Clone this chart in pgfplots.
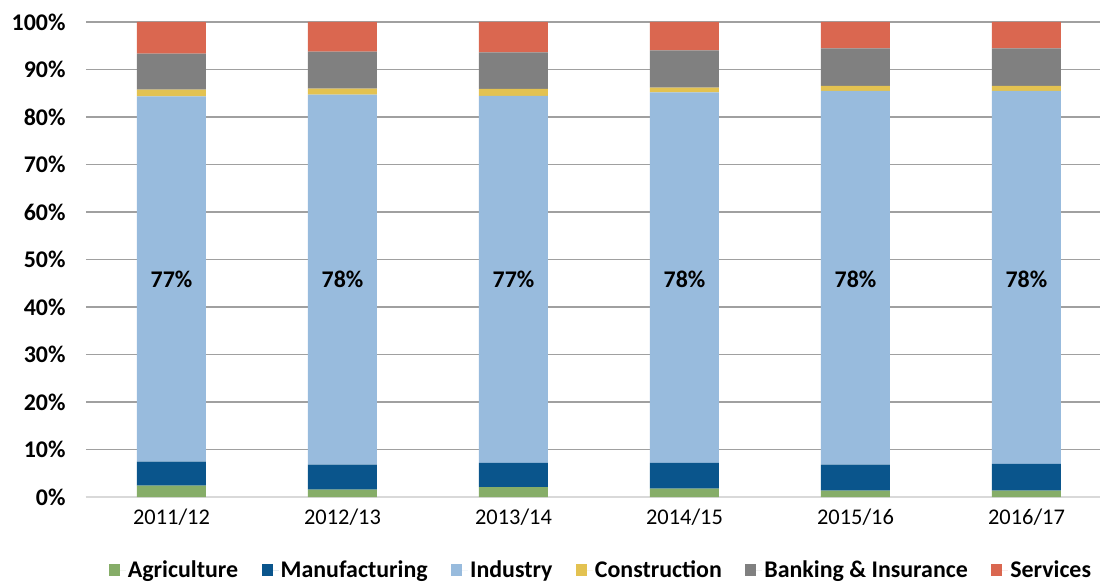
\documentclass[border=0pt]{standalone}
\usepackage{fontspec}
\setmainfont{Carlito}
\usepackage{pgfplots}
\pgfplotsset{compat=1.18}
\definecolor{agri}{RGB}{134,173,104}
\definecolor{manu}{RGB}{10,85,140}
\definecolor{indu}{RGB}{152,187,221}
\definecolor{cons}{RGB}{227,194,81}
\definecolor{bank}{RGB}{128,128,128}
\definecolor{serv}{RGB}{218,103,80}
\newcommand\bigf{\fontsize{22.5pt}{26pt}\selectfont}
\newcommand\boldf{\fontsize{24pt}{28pt}\selectfont\bfseries}
\begin{document}
\begin{tikzpicture}
\useasboundingbox (-86bp,-87bp) rectangle (1015bp,497bp);
\begin{axis}[
  scale only axis, width=1014bp, height=475bp,
  ybar stacked, bar width=69bp,
  xmin=-0.5, xmax=5.43, ymin=0, ymax=100,
  xtick={0,1,2,3,4,5},
  xticklabels={2011/12,2012/13,2013/14,2014/15,2015/16,2016/17},
  ytick={0,10,20,30,40,50,60,70,80,90,100},
  yticklabels={0\%,10\%,20\%,30\%,40\%,50\%,60\%,70\%,80\%,90\%,100\%},
  separate axis lines,
  axis x line*=bottom,
  axis y line*=left,
  x axis line style={draw={rgb,255:red,217;green,217;blue,217}, line width=2bp, -},
  y axis line style={draw=none},
  ymajorgrids,
  grid style={draw={rgb,255:red,160;green,160;blue,160}, line width=1.4bp},
  major tick length=0pt,
  xticklabel style={font=\bigf, yshift=-8bp},
  yticklabel style={font=\boldf, xshift=-17bp},
  legend style={at={(0.5,0)}, anchor=center, yshift=-73bp, xshift=8bp,
    draw=none, font=\boldf, legend columns=-1,
    /tikz/every even column/.append style={column sep=21.5bp}},
  legend image code/.code={\path (0bp,0bp) rectangle (17bp,0bp);\fill[#1] (0bp,-6bp) rectangle (11bp,6bp);},
]
\addplot[fill=agri, draw=none] coordinates {(0,2.4) (1,1.56) (2,2.1) (3,1.77) (4,1.35) (5,1.35)};
\addplot[fill=manu, draw=none] coordinates {(0,5.05) (1,5.24) (2,5.1) (3,5.43) (4,5.45) (5,5.65)};
\addplot[fill=indu, draw=none] coordinates {(0,76.9) (1,77.9) (2,77.27) (3,77.96) (4,78.7) (5,78.5)};
\addplot[fill=cons, draw=none] coordinates {(0,1.4) (1,1.26) (2,1.47) (3,1.0) (4,1.07) (5,1.07)};
\addplot[fill=bank, draw=none] coordinates {(0,7.6) (1,7.8) (2,7.66) (3,7.85) (4,7.87) (5,7.87)};
\addplot[fill=serv, draw=none] coordinates {(0,6.65) (1,6.24) (2,6.4) (3,5.99) (4,5.56) (5,5.56)};
\legend{Agriculture,Manufacturing,Industry,Construction,Banking \& Insurance,Services}
\coordinate (l0) at (axis cs:0,45.8);
\coordinate (l1) at (axis cs:1,45.8);
\coordinate (l2) at (axis cs:2,45.8);
\coordinate (l3) at (axis cs:3,45.8);
\coordinate (l4) at (axis cs:4,45.8);
\coordinate (l5) at (axis cs:5,45.8);
\end{axis}
\node[font=\boldf] at (l0) {77\%};
\node[font=\boldf] at (l1) {78\%};
\node[font=\boldf] at (l2) {77\%};
\node[font=\boldf] at (l3) {78\%};
\node[font=\boldf] at (l4) {78\%};
\node[font=\boldf] at (l5) {78\%};
\end{tikzpicture}
\end{document}
